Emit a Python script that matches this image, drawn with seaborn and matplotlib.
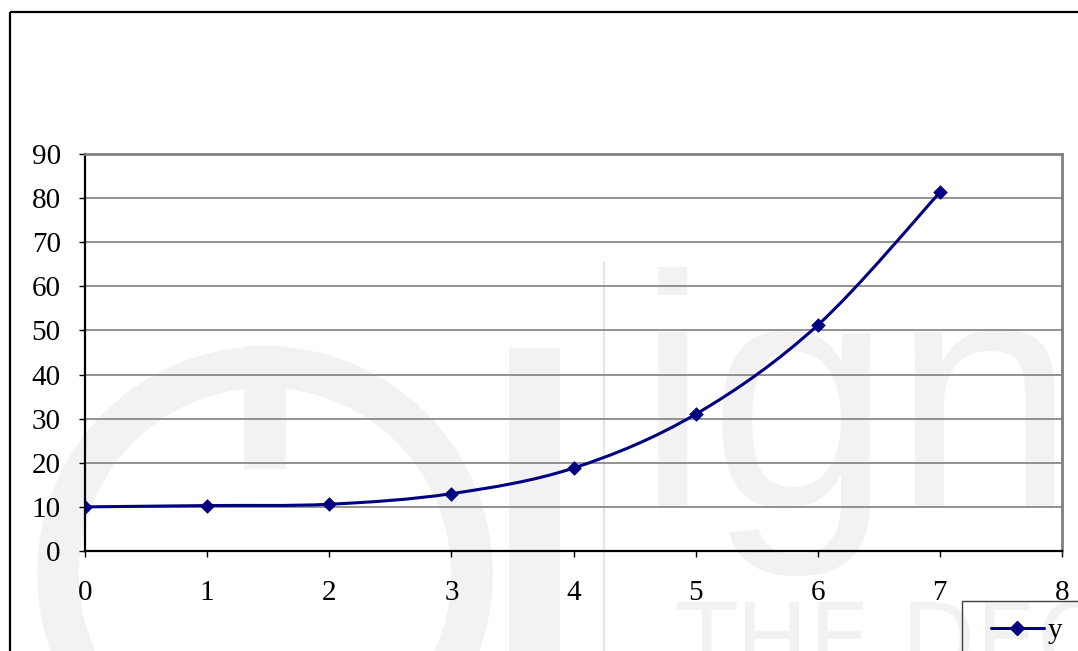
import numpy as np
import pandas as pd
import seaborn as sns
import matplotlib.pyplot as plt
from matplotlib.path import Path
from matplotlib.patches import PathPatch, Rectangle, Circle
from matplotlib.lines import Line2D

# -------------------------------
# Data
# -------------------------------
x_vals = [0, 1, 2, 3, 4, 5, 6, 7]
y_vals = [10, 10.3, 10.6, 13, 18.8, 31, 51.2, 81.3]
series_name = "y"
x_ticks = [0, 1, 2, 3, 4, 5, 6, 7, 8]
y_ticks = [0, 10, 20, 30, 40, 50, 60, 70, 80, 90]

NAVY = "#000080"
WM = "#f2f2f2"
W, H = 1078, 651


def px(x, y):
    # pixel position -> figure fraction
    return x / W, 1 - y / H


def smooth_path(xs, ys):
    # Excel-like smoothed line: Catmull-Rom turned into cubic Bezier segments
    pts = np.column_stack([xs, ys]).astype(float)
    n = len(pts)
    verts = [pts[0]]
    codes = [Path.MOVETO]
    for i in range(n - 1):
        p0 = pts[max(i - 1, 0)]
        p1 = pts[i]
        p2 = pts[i + 1]
        p3 = pts[min(i + 2, n - 1)]
        verts += [p1 + (p2 - p0) / 6, p2 - (p3 - p1) / 6, p2]
        codes += [Path.CURVE4] * 3
    return Path(verts, codes)


sns.set_style("white")
plt.rcParams["font.family"] = ["Liberation Serif", "DejaVu Serif"]
plt.rcParams["text.color"] = "black"
plt.rcParams["xtick.color"] = "black"
plt.rcParams["ytick.color"] = "black"

df = pd.DataFrame({"x": x_vals, "y": y_vals})

fig = plt.figure(figsize=(W / 100, H / 100), dpi=100)
fig.patch.set_facecolor("white")

# -------------------------------
# Faint watermark behind the chart
# -------------------------------
fig.text(*px(636, 507), "ign", fontsize=238, family="Liberation Sans",
         color=WM, ha="left", va="baseline", zorder=-5)
fig.text(*px(676, 672), "THE DEC", fontsize=70, family="DejaVu Sans",
         color=WM, ha="left", va="baseline", zorder=-5)
ring = Circle((265, H - 574), 207, transform=None, fill=False,
              edgecolor=WM, lw=30, zorder=-5)
fig.patches.append(ring)
for x0, y0, x1, y1 in [(244, 346, 286, 469), (509, 348, 560, 651)]:
    fig.patches.append(Rectangle(px(x0, y1), (x1 - x0) / W, (y1 - y0) / H,
                                 transform=fig.transFigure, facecolor=WM,
                                 edgecolor="none", zorder=-5))
fig.add_artist(Line2D([604 / W, 604 / W], [1 - 262 / H, 0], color="#e6e6e6",
                      lw=1.5, transform=fig.transFigure, zorder=-4))

# outer chart border (cut off at right and bottom)
fig.patches.append(Rectangle(px(10, 12), 1.2, -(1 - 12 / H) - 0.2,
                             transform=fig.transFigure, fill=False,
                             edgecolor="black", lw=1.6, zorder=1))

# -------------------------------
# Plot area
# -------------------------------
ax = fig.add_axes([85 / W, 1 - 551 / H, (1062 - 85) / W, (551 - 154) / H])
ax.set_facecolor("none")
ax.set_zorder(2)

ax.add_patch(PathPatch(smooth_path(x_vals, y_vals), fill=False,
                       edgecolor=NAVY, lw=2.2, zorder=3))
sns.scatterplot(data=df, x="x", y="y", marker="D", s=48, color=NAVY,
                edgecolor=NAVY, linewidth=0.5, zorder=4, ax=ax, legend=False)

ax.set_xlim(0, 8)
ax.set_ylim(0, 90)
ax.set_xticks(x_ticks)
ax.set_yticks(y_ticks)
ax.set_xlabel("")
ax.set_ylabel("")

ax.yaxis.grid(True, color="#808080", lw=1.2)
ax.xaxis.grid(False)
ax.set_axisbelow(True)

for side in ["left", "bottom"]:
    ax.spines[side].set_color("black")
    ax.spines[side].set_linewidth(1.6)
for side in ["top", "right"]:
    ax.spines[side].set_color("#808080")
    ax.spines[side].set_linewidth(2)

ax.tick_params(axis="y", direction="out", length=4.5, width=1, colors="black",
               labelsize=21, pad=13, left=True)
ax.tick_params(axis="x", direction="out", length=4.5, width=1, colors="black",
               labelsize=21, pad=16.5, bottom=True)

# -------------------------------
# Legend (box runs off the picture)
# -------------------------------
fig.patches.append(Rectangle(px(962, 601), 0.2, -0.2,
                             transform=fig.transFigure, fill=False,
                             edgecolor="#404040", lw=1, zorder=3))
handle = Line2D([], [], color=NAVY, lw=2.2, marker="D", markersize=6.8)
leg = fig.legend([handle], [series_name], loc="center left",
                 bbox_to_anchor=px(991, 631), frameon=False, fontsize=21,
                 borderpad=0, borderaxespad=0, handlelength=1.8,
                 handletextpad=0.15)
leg.set_zorder(4)

fig.savefig("out.png", dpi=100, facecolor="white")
